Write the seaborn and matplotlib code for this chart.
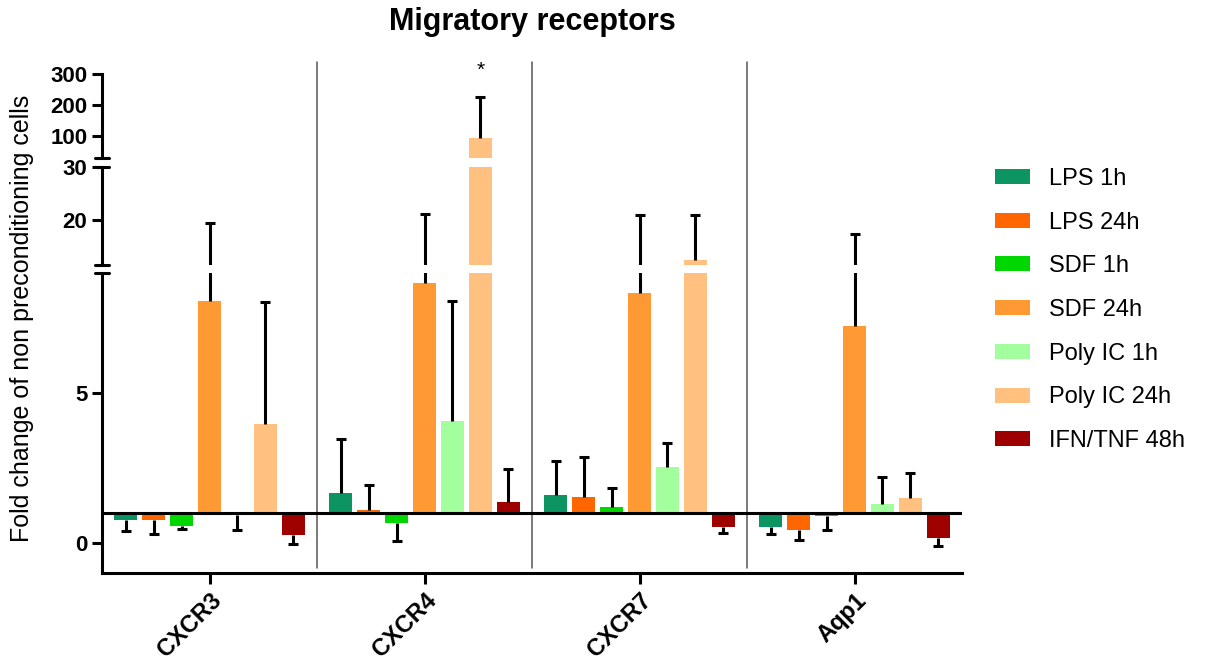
import numpy as np
import pandas as pd
import seaborn as sns
import matplotlib.pyplot as plt
import matplotlib.transforms as mtransforms
from matplotlib.patches import Patch

genes = ['CXCR3', 'CXCR4', 'CXCR7', 'Aqp1']
treatments = ['LPS 1h', 'LPS 24h', 'SDF 1h', 'SDF 24h', 'Poly IC 1h', 'Poly IC 24h', 'IFN/TNF 48h']
colors = ['#0c9463', '#ff6600', '#00d600', '#ff9933', '#a3ff9e', '#ffc080', '#9e0000']

# mean fold change, one list per gene (treatment order)
cxcr3 = [0.77, 0.77, 0.57, 8.07, 0.95, 3.97, 0.27]
cxcr4 = [1.67, 1.1, 0.67, 8.67, 4.07, 94.0, 1.37]
cxcr7 = [1.6, 1.53, 1.2, 8.33, 2.53, 12.45, 0.53]
aqp1 = [0.53, 0.43, 0.9, 7.23, 1.3, 1.5, 0.17]

# error bar length, drawn away from the baseline (fold change = 1)
cxcr3_err = [0.37, 0.47, 0.1, 11.33, 0.5, 4.05, 0.3]
cxcr4_err = [1.8, 0.83, 0.6, 12.43, 4.0, 132.0, 1.1]
cxcr7_err = [1.13, 1.34, 0.63, 12.57, 0.8, 8.45, 0.2]
aqp1_err = [0.23, 0.33, 0.47, 10.17, 0.9, 0.83, 0.27]

df = pd.DataFrame({
    'gene': np.repeat(genes, len(treatments)),
    'treatment': treatments * len(genes),
    'fold': cxcr3 + cxcr4 + cxcr7 + aqp1,
    'err': cxcr3_err + cxcr4_err + cxcr7_err + aqp1_err,
})
df['delta'] = df['fold'] - 1

sns.set_style('white')
plt.rcParams['font.family'] = ['Liberation Sans', 'DejaVu Sans']
plt.rcParams.update({'text.color': 'black', 'axes.labelcolor': 'black',
                     'xtick.color': 'black', 'ytick.color': 'black',
                     'axes.edgecolor': 'black'})

W, H = 1209, 660
fig = plt.figure(figsize=(W / 100, H / 100), dpi=100)

def px_axes(top, bottom):
    return fig.add_axes([102 / W, (H - bottom) / H, 860 / W, (bottom - top) / H])

ax_top = px_axes(74, 158)
ax_mid = px_axes(167, 265)
ax_bot = px_axes(273, 573)
segments = [(ax_bot, (-1, 9), [0, 5]),
            (ax_mid, (11.5, 30), [20, 30]),
            (ax_top, (30, 300), [100, 200, 300])]

lw = 2.2
for ax, ylim, yticks in segments:
    sns.barplot(data=df, x='gene', y='delta', hue='treatment', order=genes,
                hue_order=treatments, palette=colors, saturation=1,
                width=0.91, gap=0.18, bottom=1, errorbar=None,
                legend=False, linewidth=0, ax=ax)
    # one-sided error bars from the bar ends, cap only at the far end
    for k, bar in enumerate(ax.patches):
        row = df[(df.gene == genes[k % len(genes)]) &
                 (df.treatment == treatments[k // len(genes)])].iloc[0]
        x = bar.get_x() + bar.get_width() / 2
        y = row['fold']
        sign = 1 if row['delta'] >= 0 else -1
        y_end = y + sign * row['err']
        ax.plot([x, x], [y, y_end], color='black', lw=lw, zorder=3,
                solid_capstyle='butt')
        ax.plot([x], [y_end], marker='_', markersize=6.5, mew=lw,
                color='black', zorder=3)
    ax.set_ylim(*ylim)
    ax.set_xlim(-0.5, 3.5)
    ax.set_yticks(yticks)
    ax.set_ylabel('')
    ax.set_xlabel('')
    ax.tick_params(axis='y', direction='out', length=7, width=lw, labelsize=16, left=True)
    for t in ax.get_yticklabels():
        t.set_fontweight('bold')
    ax.spines['left'].set_linewidth(lw)
    for s in ['top', 'right']:
        ax.spines[s].set_visible(False)
    ax.patch.set_visible(False)

for ax in [ax_mid, ax_top]:
    ax.spines['bottom'].set_visible(False)
    ax.tick_params(axis='x', bottom=False, labelbottom=False)

ax_bot.spines['bottom'].set_linewidth(lw)
ax_bot.tick_params(axis='x', direction='out', length=8, width=lw, bottom=True)
ax_bot.set_xticks(range(len(genes)))
ax_bot.set_xticklabels(genes, rotation=45, ha='right', va='top',
                       rotation_mode='anchor', fontsize=17, fontweight='bold')
ax_bot.axhline(1, color='black', lw=lw, zorder=4)

# group separators running through all segments
trans = mtransforms.blended_transform_factory(ax_bot.transData, ax_bot.transAxes)
for xs in [0.5, 1.5, 2.5]:
    ax_bot.plot([xs, xs], [5 / 300, 511 / 300], transform=trans, color='#555555',
                lw=1.1, clip_on=False, zorder=1)

# axis break marks
d = 7 / 860
for ax, ys in [(ax_bot, [1]), (ax_mid, [0, 1]), (ax_top, [0])]:
    for yb in ys:
        ax.plot([-d, d], [yb, yb], transform=ax.transAxes, color='black',
                lw=lw, clip_on=False, zorder=5)

# significance star above Poly IC 24h / CXCR4
k_star = treatments.index('Poly IC 24h') * len(genes) + genes.index('CXCR4')
star_bar = ax_top.patches[k_star]
ax_top.text(star_bar.get_x() + star_bar.get_width() / 2, 313, '*',
            ha='center', va='center', fontsize=15, clip_on=False)

fig.text(532 / W, 1 - 22 / H, 'Migratory receptors', ha='center', va='center',
         fontsize=22, fontweight='bold')
fig.text(22 / W, 1 - 318 / H, 'Fold change of non preconditioning cells',
         rotation=90, ha='center', va='center', fontsize=18)

handles = [Patch(facecolor=c, edgecolor='none', label=t) for c, t in zip(colors, treatments)]
fig.legend(handles=handles, loc='center left', bbox_to_anchor=(995 / W, 1 - 310 / H),
           frameon=False, fontsize=17, handlelength=1.5, handleheight=0.6,
           handletextpad=0.8, labelspacing=0.92, borderpad=0, borderaxespad=0)

fig.savefig('out.png', dpi=100)
